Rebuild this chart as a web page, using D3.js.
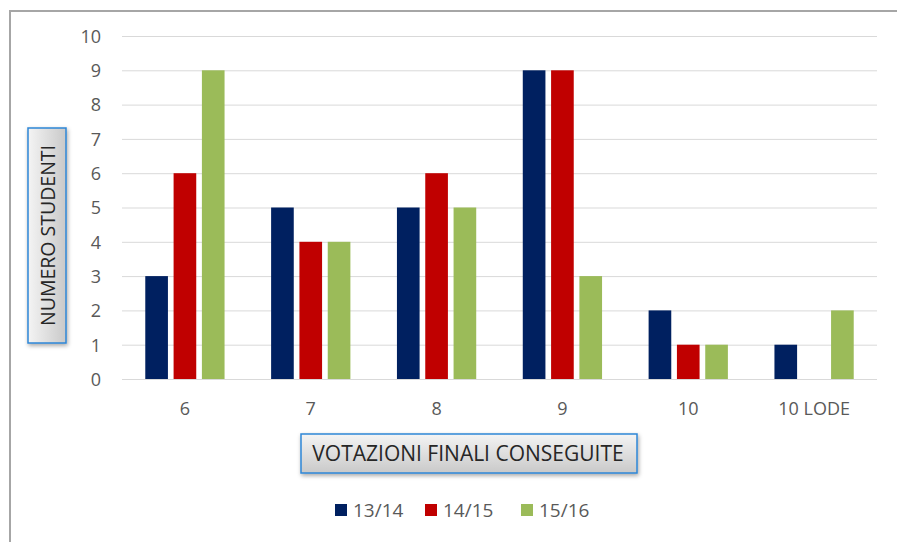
<!DOCTYPE html>
<html>
<head>
<meta charset="utf-8">
<script src="https://cdn.jsdelivr.net/npm/d3@7"></script>
<style>
  body { margin: 0; background: #fff; }
  svg { display: block; font-family: "Open Sans", "Noto Sans", sans-serif; }
</style>
</head>
<body>
<svg id="chart" width="897" height="542"></svg>
<script>
const categories = ['6', '7', '8', '9', '10', '10 LODE'];
const seriesNames = ['13/14', '14/15', '15/16'];
const values1314 = [3, 5, 5, 9, 2, 1];
const values1415 = [6, 4, 6, 9, 1, 0];
const values1516 = [9, 4, 5, 3, 1, 2];
const yTicks = [0, 1, 2, 3, 4, 5, 6, 7, 8, 9, 10];
const colors = ['#002060', '#C00000', '#9BBB59'];

const seriesValues = [values1314, values1415, values1516];
const svg = d3.select('#chart');

const defs = svg.append('defs');
const grad = defs.append('linearGradient').attr('id', 'boxGrad')
    .attr('x1', 0).attr('y1', 0).attr('x2', 0).attr('y2', 1);
grad.append('stop').attr('offset', '0%').attr('stop-color', '#f4f4f4');
grad.append('stop').attr('offset', '100%').attr('stop-color', '#c9c9c9');
const gradV = defs.append('linearGradient').attr('id', 'boxGradV')
    .attr('x1', 0).attr('y1', 0).attr('x2', 1).attr('y2', 0);
gradV.append('stop').attr('offset', '0%').attr('stop-color', '#f4f4f4');
gradV.append('stop').attr('offset', '100%').attr('stop-color', '#c9c9c9');
const shadow = defs.append('filter').attr('id', 'shadow')
    .attr('x', '-10%').attr('y', '-20%').attr('width', '130%').attr('height', '160%');
shadow.append('feDropShadow').attr('dx', 1).attr('dy', 2).attr('stdDeviation', 2)
    .attr('flood-color', '#000').attr('flood-opacity', 0.35);

// outer frame (only top and left visible)
svg.append('path')
    .attr('d', 'M10,542 L10,11 L897,11')
    .attr('fill', 'none').attr('stroke', '#a6a6a6').attr('stroke-width', 2);

const margin = { top: 36, left: 122, right: 877, bottom: 379 };

const x0 = d3.scaleBand().domain(categories)
    .range([margin.left, margin.right]).paddingInner(0.37).paddingOuter(0.185);
const x1 = d3.scaleBand().domain(seriesNames)
    .range([0, x0.bandwidth()]).paddingInner(0.2);
const y = d3.scaleLinear().domain([0, 10]).range([margin.bottom, margin.top]);

// gridlines
svg.append('g').selectAll('line').data(yTicks).join('line')
    .attr('x1', margin.left).attr('x2', margin.right)
    .attr('y1', d => y(d) + 0.5).attr('y2', d => y(d) + 0.5)
    .attr('stroke', '#d9d9d9').attr('stroke-width', 1);

// y axis labels
const yAxis = d3.axisLeft(y).tickValues(yTicks).tickSize(0).tickPadding(0);
const yg = svg.append('g').attr('transform', 'translate(101,0)').call(yAxis)
    .attr('font-family', null).attr('font-size', null);
yg.select('.domain').remove();
yg.selectAll('text').attr('fill', '#595959').style('font-size', '18px')
    .attr('dy', '0.35em');

// bars
const groups = svg.append('g').selectAll('g').data(categories).join('g')
    .attr('transform', d => `translate(${x0(d)},0)`);
groups.selectAll('rect')
    .data((d, i) => seriesNames.map((s, j) => ({ s: s, v: seriesValues[j][i], c: colors[j] })))
    .join('rect')
    .attr('x', d => x1(d.s))
    .attr('width', x1.bandwidth())
    .attr('y', d => y(d.v))
    .attr('height', d => y(0) - y(d.v))
    .attr('fill', d => d.c);

// x axis labels
const xAxis = d3.axisBottom(x0).tickSize(0).tickPadding(0);
const xg = svg.append('g').attr('transform', `translate(0,${margin.bottom + 30})`).call(xAxis)
    .attr('font-family', null).attr('font-size', null);
xg.select('.domain').remove();
xg.selectAll('text').attr('fill', '#595959').style('font-size', '18px').attr('dy', '0.35em');

// y title box
svg.append('rect').attr('x', 28).attr('y', 128).attr('width', 38).attr('height', 215)
    .attr('fill', 'url(#boxGradV)').attr('stroke', '#2e86d6').attr('stroke-width', 1.5)
    .attr('filter', 'url(#shadow)');
svg.append('text').attr('transform', 'translate(48,235.5) rotate(-90)')
    .attr('text-anchor', 'middle').attr('dy', '0.35em')
    .attr('fill', '#262626').style('font-size', '19.5px')
    .text('NUMERO STUDENTI');

// x title box
svg.append('rect').attr('x', 301).attr('y', 434).attr('width', 336).attr('height', 39)
    .attr('fill', 'url(#boxGrad)').attr('stroke', '#2e86d6').attr('stroke-width', 1.5)
    .attr('filter', 'url(#shadow)');
svg.append('text').attr('x', 468).attr('y', 454)
    .attr('text-anchor', 'middle').attr('dy', '0.35em')
    .attr('fill', '#262626').style('font-size', '21px')
    .text('VOTAZIONI FINALI CONSEGUITE');

// legend
const legendX = [335, 425, 521];
const legend = svg.append('g').selectAll('g').data(seriesNames).join('g')
    .attr('transform', (d, i) => `translate(${legendX[i]},510)`);
legend.append('rect').attr('x', 0).attr('y', -6).attr('width', 12).attr('height', 12)
    .attr('fill', (d, i) => colors[i]);
legend.append('text').attr('x', 18).attr('dy', '0.35em')
    .attr('fill', '#595959').style('font-size', '19px').text(d => d);
</script>
</body>
</html>
